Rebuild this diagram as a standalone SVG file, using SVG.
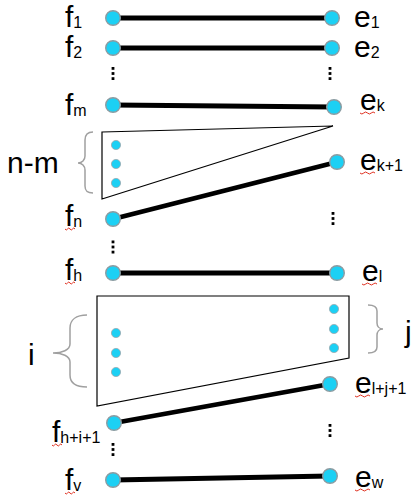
<svg xmlns="http://www.w3.org/2000/svg" width="415" height="498" viewBox="0 0 415 498">
<style>
.lbl{font-family:"Liberation Sans",Arial,sans-serif;font-size:30px;fill:#000}
.sub{font-size:16px}
.big{font-family:"Liberation Sans",Arial,sans-serif;font-size:30px;fill:#000}
.node{fill:#1cd0f4;stroke:#8c9ca2;stroke-width:1.4}
.dot{fill:#1cd0f4;stroke:#9aaab0;stroke-width:0.8}
.edge{stroke:#000;stroke-width:4.8;stroke-linecap:butt;fill:none}
.shape{fill:#fff;stroke:#000;stroke-width:1.2}
.brace{fill:none;stroke:#a0a0a0;stroke-width:1.5}
.ell{fill:#000}
.sq{fill:none;stroke:#e03020;stroke-width:1}
</style>
<defs>
<path id="sq15" class="sq" d="M0,0 q1.9,2 3.75,0 t3.75,0 t3.75,0 t3.75,0"/>
<path id="sq10" class="sq" d="M0,0 q1.25,2 2.5,0 t2.5,0 t2.5,0 t2.5,0"/>
<g id="vdots"><rect x="-1.4" y="-6.5" width="2.8" height="2.8"/><rect x="-1.4" y="-1.4" width="2.8" height="2.8"/><rect x="-1.4" y="3.7" width="2.8" height="2.8"/></g>
</defs>

<g id="shapes">
<polygon class="shape" points="102,132 333,126 102,199"/>
<polygon class="shape" points="97,296 349,296 349,358 97,406"/>
</g>

<g id="connectors">
<line class="edge" x1="113" y1="18" x2="332" y2="18"/>
<line class="edge" x1="113" y1="48" x2="332" y2="48"/>
<line class="edge" x1="113" y1="105" x2="334" y2="107"/>
<line class="edge" x1="113" y1="219" x2="337" y2="162"/>
<line class="edge" x1="113" y1="273" x2="337" y2="273"/>
<line class="edge" x1="114" y1="423" x2="330" y2="384"/>
<line class="edge" x1="113" y1="480" x2="330" y2="476"/>
</g>

<g id="n-f1"><circle class="node" cx="113" cy="18" r="7.3"/><text class="lbl" x="65" y="27">f<tspan class="sub" dy="1">1</tspan></text></g>
<g id="n-e1"><circle class="node" cx="332" cy="18" r="7.3"/><text class="lbl" x="354" y="27">e<tspan class="sub" dy="1">1</tspan></text></g>
<g id="n-f2"><circle class="node" cx="113" cy="48" r="7.3"/><text class="lbl" x="65" y="57">f<tspan class="sub" dy="1">2</tspan></text></g>
<g id="n-e2"><circle class="node" cx="332" cy="48" r="7.3"/><text class="lbl" x="354" y="57">e<tspan class="sub" dy="1">2</tspan></text></g>
<g id="n-fm"><circle class="node" cx="113" cy="105" r="7.3"/><text class="lbl" x="65" y="115">f<tspan class="sub" dy="1">m</tspan></text></g>
<g id="n-ek"><circle class="node" cx="334" cy="107" r="7.3"/><text class="lbl" x="360" y="110">e<tspan class="sub" dy="1">k</tspan></text><use href="#sq15" x="360" y="113"/></g>
<g id="n-ek1"><circle class="node" cx="337" cy="162" r="7.3"/><text class="lbl" x="360" y="170">e<tspan class="sub" dy="1">k+1</tspan></text><use href="#sq15" x="360" y="173"/></g>
<g id="n-fn"><circle class="node" cx="113" cy="219" r="7.3"/><text class="lbl" x="65" y="226">f<tspan class="sub" dy="1">n</tspan></text><use href="#sq10" x="65" y="229"/></g>
<g id="n-fh"><circle class="node" cx="113" cy="273" r="7.3"/><text class="lbl" x="65" y="280">f<tspan class="sub" dy="1">h</tspan></text><use href="#sq10" x="65" y="283"/></g>
<g id="n-el"><circle class="node" cx="337" cy="273" r="7.3"/><text class="lbl" x="362" y="281">e<tspan class="sub" dy="1">l</tspan></text><use href="#sq15" x="362" y="284"/></g>
<g id="n-elj1"><circle class="node" cx="330" cy="384" r="7.3"/><text class="lbl" x="355" y="393">e<tspan class="sub" dy="1">l+j+1</tspan></text><use href="#sq15" x="355" y="396"/></g>
<g id="n-fhi1"><circle class="node" cx="114" cy="423" r="7.3"/><text class="lbl" x="52" y="442">f<tspan class="sub" dy="1">h+i+1</tspan></text><use href="#sq10" x="52" y="445"/></g>
<g id="n-fv"><circle class="node" cx="113" cy="480" r="7.3"/><text class="lbl" x="65" y="490">f<tspan class="sub" dy="1">v</tspan></text><use href="#sq10" x="65" y="493"/></g>
<g id="n-ew"><circle class="node" cx="330" cy="476" r="7.3"/><text class="lbl" x="355" y="487">e<tspan class="sub" dy="1">w</tspan></text><use href="#sq15" x="355" y="490"/></g>

<g id="group-nm">
<circle class="dot" cx="116" cy="145" r="4.6"/>
<circle class="dot" cx="116" cy="164" r="4.6"/>
<circle class="dot" cx="116" cy="183" r="4.6"/>
<path class="brace" d="M93,132 C87,132 85,135 85,140 L85,156 C85,160 82,163 78,163 C82,163 85,166 85,170 L85,186 C85,191 87,193 93,193"/>
<text class="big" x="7" y="173">n-m</text>
</g>

<g id="group-ij">
<circle class="dot" cx="116" cy="333" r="4.6"/>
<circle class="dot" cx="116" cy="353" r="4.6"/>
<circle class="dot" cx="116" cy="372" r="4.6"/>
<circle class="dot" cx="334" cy="309" r="4.6"/>
<circle class="dot" cx="334" cy="329" r="4.6"/>
<circle class="dot" cx="334" cy="348" r="4.6"/>
<path class="brace" d="M87,315 C76,315 70,320 70,328 L70,344 C70,350 62,353 53,353 C62,353 70,356 70,362 L70,375 C70,383 76,387 87,387"/>
<path class="brace" d="M368,305 C374,305 377,307 377,311 L377,323 C377,326 379,329 383,329 C379,329 377,332 377,335 L377,347 C377,351 374,353 368,353"/>
<text class="big" x="28" y="365">i</text>
<text class="big" x="405" y="342">j</text>
</g>

<g id="ellipses" class="ell">
<use href="#vdots" x="113" y="73.5"/>
<use href="#vdots" x="330" y="73.5"/>
<use href="#vdots" x="333" y="218.5"/>
<use href="#vdots" x="113" y="247"/>
<use href="#vdots" x="330" y="430.5"/>
<use href="#vdots" x="113" y="449.5"/>
</g>
</svg>
